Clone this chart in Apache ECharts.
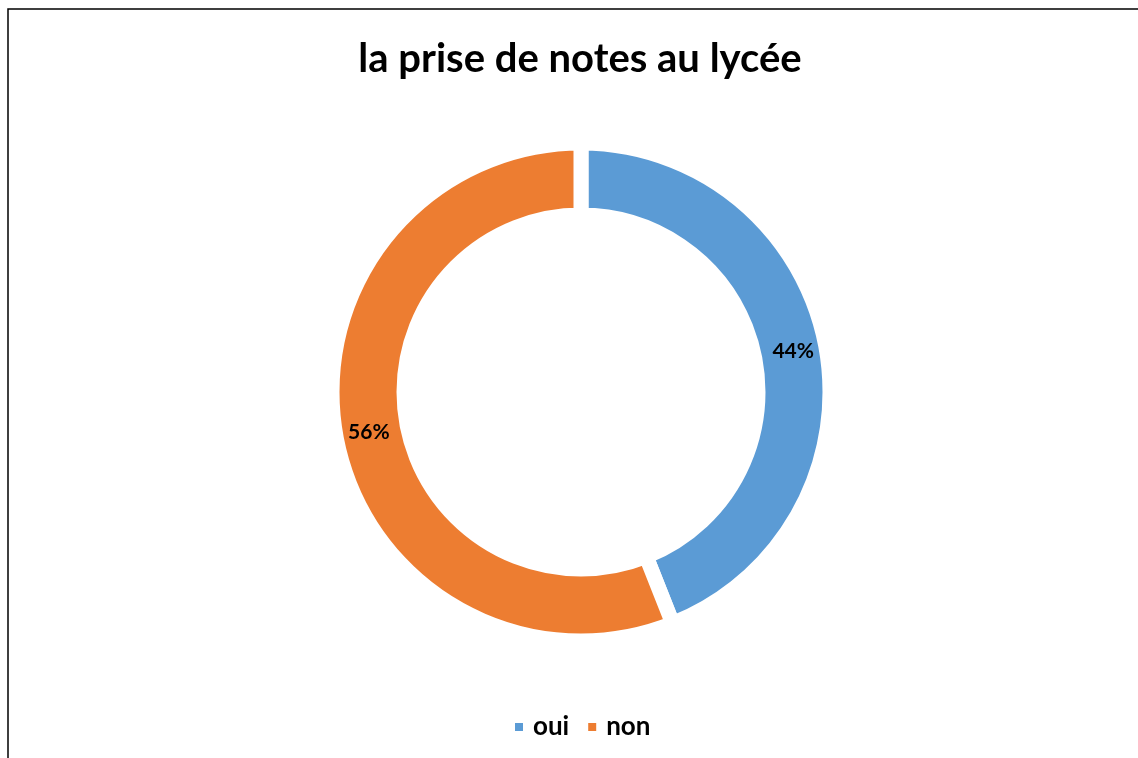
<!DOCTYPE html>
<html>
<head>
<meta charset="utf-8">
<script src="https://cdn.jsdelivr.net/npm/echarts@6/dist/echarts.min.js"></script>
<style>
  html, body { margin: 0; padding: 0; background: #fff; }
  #chart { width: 1138px; height: 758px; }
</style>
</head>
<body>
<div id="chart"></div>
<script>
const categories = ["oui", "non"];
const values = [44, 56];
const colors = ["#5B9BD5", "#ED7D31"];

const chart = echarts.init(document.getElementById("chart"));

const option = {
  backgroundColor: "#fff",
  title: {
    text: "la prise de notes au lycée",
    left: 575,
    textAlign: "center",
    top: 34,
    textStyle: {
      fontFamily: "Lato",
      fontWeight: "bold",
      fontSize: 40,
      color: "#000",
    },
  },
  legend: {
    data: categories,
    top: 709,
    left: 508,
    icon: "rect",
    itemWidth: 10,
    itemHeight: 10,
    itemGap: 17,
    textStyle: {
      fontFamily: "Lato",
      fontWeight: "bold",
      fontSize: 26,
      color: "#000",
      padding: [0, 0, 0, 4],
    },
  },
  // cadre du graphique (bords gauche et haut)
  graphic: [
    {
      type: "polyline",
      shape: { points: [[8, 800], [8, 9], [1200, 9]] },
      style: { stroke: "#000", lineWidth: 1.5, fill: null },
    },
  ],
  series: [
    {
      type: "pie",
      center: [581, 392],
      radius: [177, 249],
      startAngle: 90,
      clockwise: true,
      avoidLabelOverlap: false,
      data: categories.map((name, i) => ({
        name,
        value: values[i],
        itemStyle: { color: colors[i] },
      })),
      itemStyle: {
        borderColor: "#fff",
        borderWidth: 15,
      },
      label: {
        show: true,
        position: "inside",
        formatter: "{d}%",
        fontFamily: "Lato",
        fontWeight: "bold",
        fontSize: 21,
        color: "#000",
      },
      labelLine: { show: false },
      emphasis: { disabled: true },
    },
  ],
};

chart.setOption(option);
</script>
</body>
</html>
